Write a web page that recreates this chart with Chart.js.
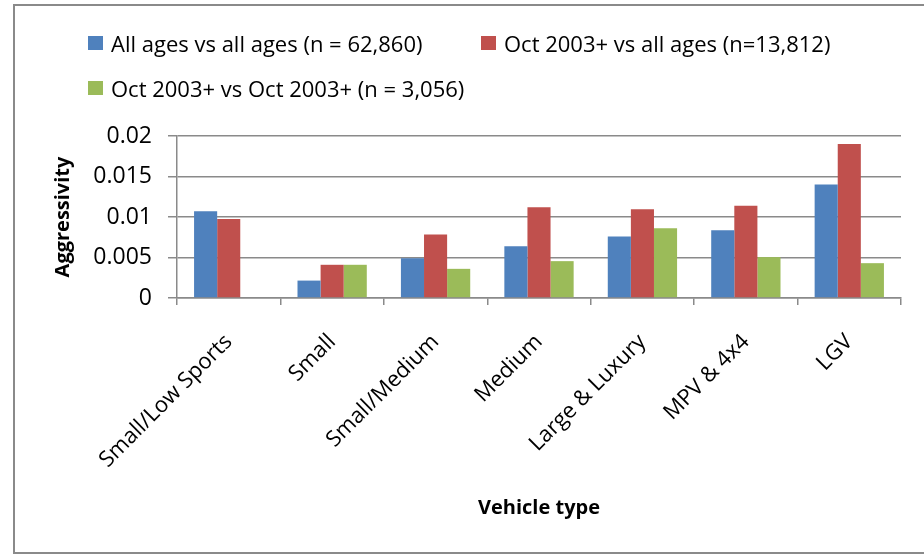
<!DOCTYPE html>
<html>
<head>
<meta charset="utf-8">
<script src="https://cdn.jsdelivr.net/npm/chart.js@4/dist/chart.umd.min.js"></script>
<style>
    body { margin: 0; background: #fff; width: 924px; height: 555px; overflow: hidden; position: relative; font-family: 'Open Sans', sans-serif; }
    #frame { position: absolute; left: 13px; top: 4px; width: 960px; height: 546px; border: 2px solid #8a8a8a; }
    #chart { position: absolute; left: 0; top: 0; }
    .legend-item { position: absolute; display: flex; align-items: center; height: 30px; font-size: 22px; color: #000; white-space: nowrap; }
    .legend-item .box { width: 15px; height: 14px; margin-right: 8px; }
</style>
</head>
<body>
<div id="frame"></div>
<canvas id="chart" width="924" height="555"></canvas>
<div id="legend"></div>
<script>
const categories = ['Small/Low Sports', 'Small', 'Small/Medium', 'Medium', 'Large & Luxury', 'MPV & 4x4', 'LGV'];
const allAges = [0.0107, 0.00215, 0.0049, 0.0064, 0.0076, 0.00835, 0.0140];
const oct2003VsAll = [0.00975, 0.0041, 0.00785, 0.0112, 0.01095, 0.0114, 0.0190];
const oct2003VsOct2003 = [null, 0.0041, 0.0036, 0.00455, 0.0086, 0.00505, 0.0043];
const seriesNames = [
    'All ages vs all ages (n = 62,860)',
    'Oct 2003+ vs all ages (n=13,812)',
    'Oct 2003+ vs Oct 2003+ (n = 3,056)'
];
const yTickLabels = ['0', '0.005', '0.01', '0.015', '0.02'];

const colors = ['#4f81bd', '#c0504d', '#9bbb59'];
const gridColor = '#8a8a8a';
const font = "'Open Sans', sans-serif";

const chart = new Chart(document.getElementById('chart'), {
    type: 'bar',
    data: {
        labels: categories,
        datasets: [allAges, oct2003VsAll, oct2003VsOct2003].map((d, i) => ({
            label: seriesNames[i],
            data: d,
            backgroundColor: colors[i],
            borderWidth: 0,
            barPercentage: 1,
            categoryPercentage: 0.67
        }))
    },
    options: {
        responsive: false,
        animation: false,
        layout: { padding: { top: 136, left: 51, right: 23, bottom: 0 } },
        plugins: { legend: { display: false }, tooltip: { enabled: false } },
        scales: {
            x: {
                grid: { offset: true, drawOnChartArea: false, drawTicks: true, tickLength: 7, color: gridColor, lineWidth: 1.5 },
                border: { display: true, color: gridColor, width: 1.5 },
                ticks: { minRotation: 45, maxRotation: 45, padding: 24, color: '#000', font: { family: font, size: 22 } },
                title: { display: true, text: 'Vehicle type', color: '#000', font: { family: font, size: 20, weight: 'bold' }, padding: { top: 0, bottom: 35 } },
                afterFit: s => { s.height = 257; }
            },
            y: {
                min: 0,
                max: 0.02,
                ticks: { stepSize: 0.005, padding: 16, color: '#000', font: { family: font, size: 23 }, callback: (v, i) => yTickLabels[i] },
                grid: { color: gridColor, lineWidth: 1.5, tickLength: 9 },
                border: { display: true, color: gridColor, width: 1.5 },
                title: { display: true, text: 'Aggressivity', color: '#000', font: { family: font, size: 20, weight: 'bold' }, padding: { top: 0, bottom: 0 } },
                afterFit: s => { s.width = 126; }
            }
        }
    }
});

// legend laid out like the original: two items on the first row, one on the second
const legendSpots = [[88, 28], [481, 28], [88, 73]];
const legend = document.getElementById('legend');
chart.data.datasets.forEach((ds, i) => {
    const item = document.createElement('div');
    item.className = 'legend-item';
    item.style.left = legendSpots[i][0] + 'px';
    item.style.top = legendSpots[i][1] + 'px';
    item.innerHTML = `<span class="box" style="background:${ds.backgroundColor}"></span><span>${ds.label}</span>`;
    legend.appendChild(item);
});
</script>
</body>
</html>
